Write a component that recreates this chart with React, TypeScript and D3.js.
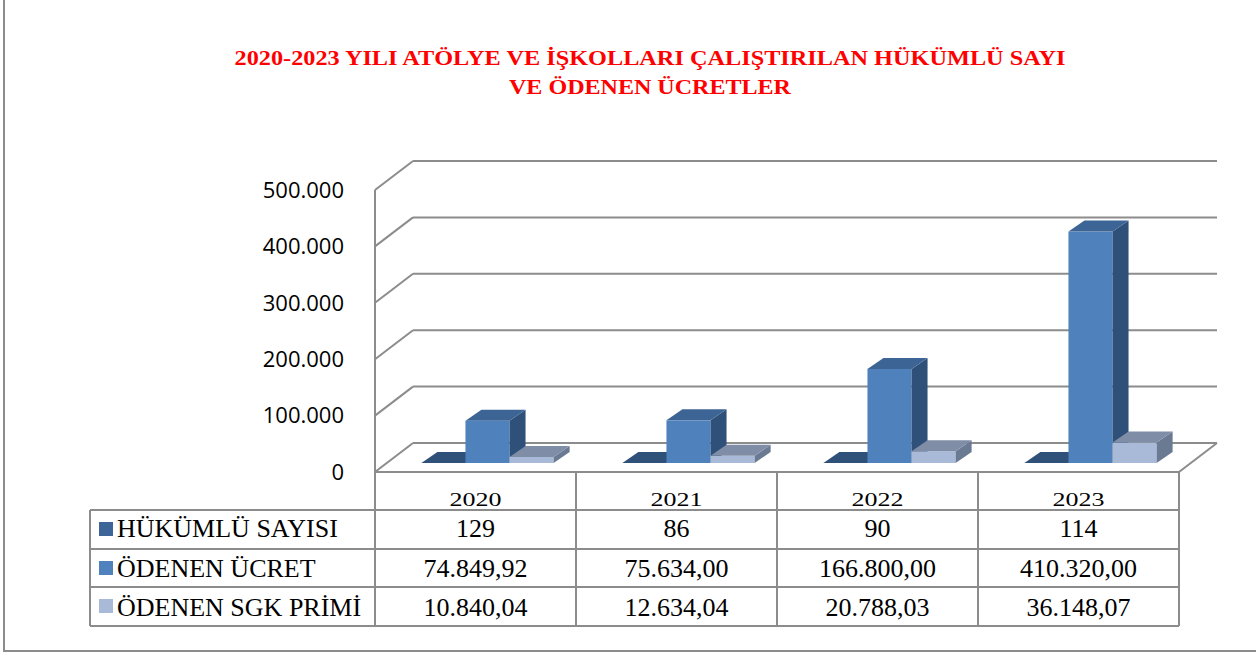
import React from 'react';
import * as d3 from 'd3';

const years = ['2020', '2021', '2022', '2023'];
const seriesNames = ['HÜKÜMLÜ SAYISI', 'ÖDENEN ÜCRET', 'ÖDENEN SGK PRİMİ'];
const hukumluSayisi = [129, 86, 90, 114];
const odenenUcret = [74849.92, 75634.0, 166800.0, 410320.0];
const odenenSgk = [10840.04, 12634.04, 20788.03, 36148.07];
const yTicks = [0, 100000, 200000, 300000, 400000, 500000];
const titleLines = [
  '2020-2023 YILI ATÖLYE VE İŞKOLLARI ÇALIŞTIRILAN HÜKÜMLÜ SAYI',
  'VE ÖDENEN ÜCRETLER',
];

const seriesValues = [hukumluSayisi, odenenUcret, odenenSgk];
const seriesFormats = [',.0f', ',.2f', ',.2f'];

const colors = [
  { front: '#3D6497', top: '#2E5079', side: '#27456C', legend: '#3E6598' },
  { front: '#4F81BD', top: '#3C6596', side: '#2F5079', legend: '#4F81BD' },
  { front: '#A9BAD8', top: '#7F8DA7', side: '#6B7A93', legend: '#A9BAD8' },
];

const trLocale = d3.formatLocale({ decimal: ',', thousands: '.', grouping: [3], currency: ['', ''] });

const W = 1256;
const H = 655;
const X0 = 375;
const X1 = 1179;
const DX = 38;
const DY = -29;
const BX = 12;
const BY = -9;
const BDX = 16;
const BDY = -11;
const GRID = '#8C8C8C';
const rows = [472, 510, 549, 587, 626];
const TABLE_LEFT = 90;

export default function App() {
  const y = d3.scaleLinear().domain([0, 500000]).range([472, 190]);
  const xBand = d3.scaleBand<string>().domain(years).range([X0, X1]);
  const sBand = d3
    .scaleBand<string>()
    .domain(seriesNames)
    .range([0, xBand.bandwidth()])
    .paddingInner(0)
    .paddingOuter(0.78);
  const tickFmt = trLocale.format(',.0f');

  const bars: JSX.Element[] = [];
  years.forEach((yr, ci) => {
    seriesNames.forEach((s, si) => {
      const v = seriesValues[si][ci];
      const x = (xBand(yr) as number) + (sBand(s) as number) + BX;
      const w = sBand.bandwidth();
      const yb = y(0) + BY;
      const yt = y(v) + BY;
      const c = colors[si];
      const top = [
        [x, yt],
        [x + w, yt],
        [x + w + BDX, yt + BDY],
        [x + BDX, yt + BDY],
      ];
      const side = [
        [x + w, yt],
        [x + w + BDX, yt + BDY],
        [x + w + BDX, yb + BDY],
        [x + w, yb],
      ];
      bars.push(
        <g key={`${yr}-${si}`}>
          <rect x={x} y={yt} width={w} height={Math.max(0, yb - yt)} fill={c.front} />
          <polygon points={side.map((p) => p.join(',')).join(' ')} fill={c.side} />
          <polygon points={top.map((p) => p.join(',')).join(' ')} fill={c.top} />
        </g>
      );
    });
  });

  return (
    <svg
      width={W}
      height={H}
      style={{ position: 'absolute', left: 0, top: 0, display: 'block', background: '#fff' }}
    >
      <rect x={4} y={-10} width={1300} height={661} fill="#fff" stroke={GRID} strokeWidth={2} />

      {titleLines.map((t, i) => (
        <text
          key={i}
          x={650}
          y={i === 0 ? 65 : 94}
          textAnchor="middle"
          fill="#FF0000"
          fontFamily="'Liberation Serif', 'Times New Roman', serif"
          fontWeight="bold"
          fontSize={22}
          textLength={i === 0 ? 831 : 282}
          lengthAdjust="spacingAndGlyphs"
        >
          {t}
        </text>
      ))}

      {/* back wall gridlines */}
      {yTicks.map((t) => (
        <g key={t}>
          <line x1={X0 + DX} x2={X1 + DX} y1={y(t) + DY} y2={y(t) + DY} stroke={GRID} strokeWidth={2} />
          <line x1={X0} x2={X0 + DX} y1={y(t)} y2={y(t) + DY} stroke={GRID} strokeWidth={2} />
          <text
            x={344}
            y={y(t)}
            dy="0.35em"
            textAnchor="end"
            fontFamily="'Open Sans', 'Noto Sans', sans-serif"
            fontSize={22}
            fill="#000"
          >
            {tickFmt(t)}
          </text>
        </g>
      ))}
      {/* floor right edge */}
      <line x1={X1} x2={X1 + DX} y1={y(0)} y2={y(0) + DY} stroke={GRID} strokeWidth={2} />

      {bars}

      {/* axis vertical */}
      <line x1={X0} x2={X0} y1={y(500000)} y2={rows[4]} stroke={GRID} strokeWidth={2} />

      {/* table */}
      <line x1={X0} x2={X1} y1={rows[0]} y2={rows[0]} stroke={GRID} strokeWidth={2} />
      {rows.slice(1).map((r) => (
        <line key={r} x1={TABLE_LEFT} x2={X1} y1={r} y2={r} stroke={GRID} strokeWidth={2} />
      ))}
      <line x1={TABLE_LEFT} x2={TABLE_LEFT} y1={rows[1]} y2={rows[4]} stroke={GRID} strokeWidth={2} />
      {years.map((yr) => (
        <line
          key={yr}
          x1={(xBand(yr) as number) + xBand.bandwidth()}
          x2={(xBand(yr) as number) + xBand.bandwidth()}
          y1={rows[0]}
          y2={rows[4]}
          stroke={GRID}
          strokeWidth={2}
        />
      ))}
      {years.map((yr) => (
        <text
          key={yr}
          x={(xBand(yr) as number) + xBand.bandwidth() / 2}
          y={506}
          textAnchor="middle"
          fontFamily="'Liberation Serif', 'Times New Roman', serif"
          fontSize={26}
          fill="#000"
          transform={`translate(0 ${506}) scale(1 0.75) translate(0 ${-506})`}
        >
          {yr}
        </text>
      ))}
      {seriesNames.map((s, si) => {
        const base = [537, 577, 616][si];
        return (
          <g key={s}>
            <rect x={99} y={rows[si + 1] + 12} width={14} height={14} fill={colors[si].legend} />
            <text
              x={117}
              y={base}
              fontFamily="'Liberation Serif', 'Times New Roman', serif"
              fontSize={26}
              fill="#000"
            >
              {s}
            </text>
            {years.map((yr, ci) => (
              <text
                key={yr}
                x={(xBand(yr) as number) + xBand.bandwidth() / 2}
                y={base}
                textAnchor="middle"
                fontFamily="'Liberation Serif', 'Times New Roman', serif"
                fontSize={26}
                fill="#000"
              >
                {trLocale.format(seriesFormats[si])(seriesValues[si][ci])}
              </text>
            ))}
          </g>
        );
      })}
    </svg>
  );
}
